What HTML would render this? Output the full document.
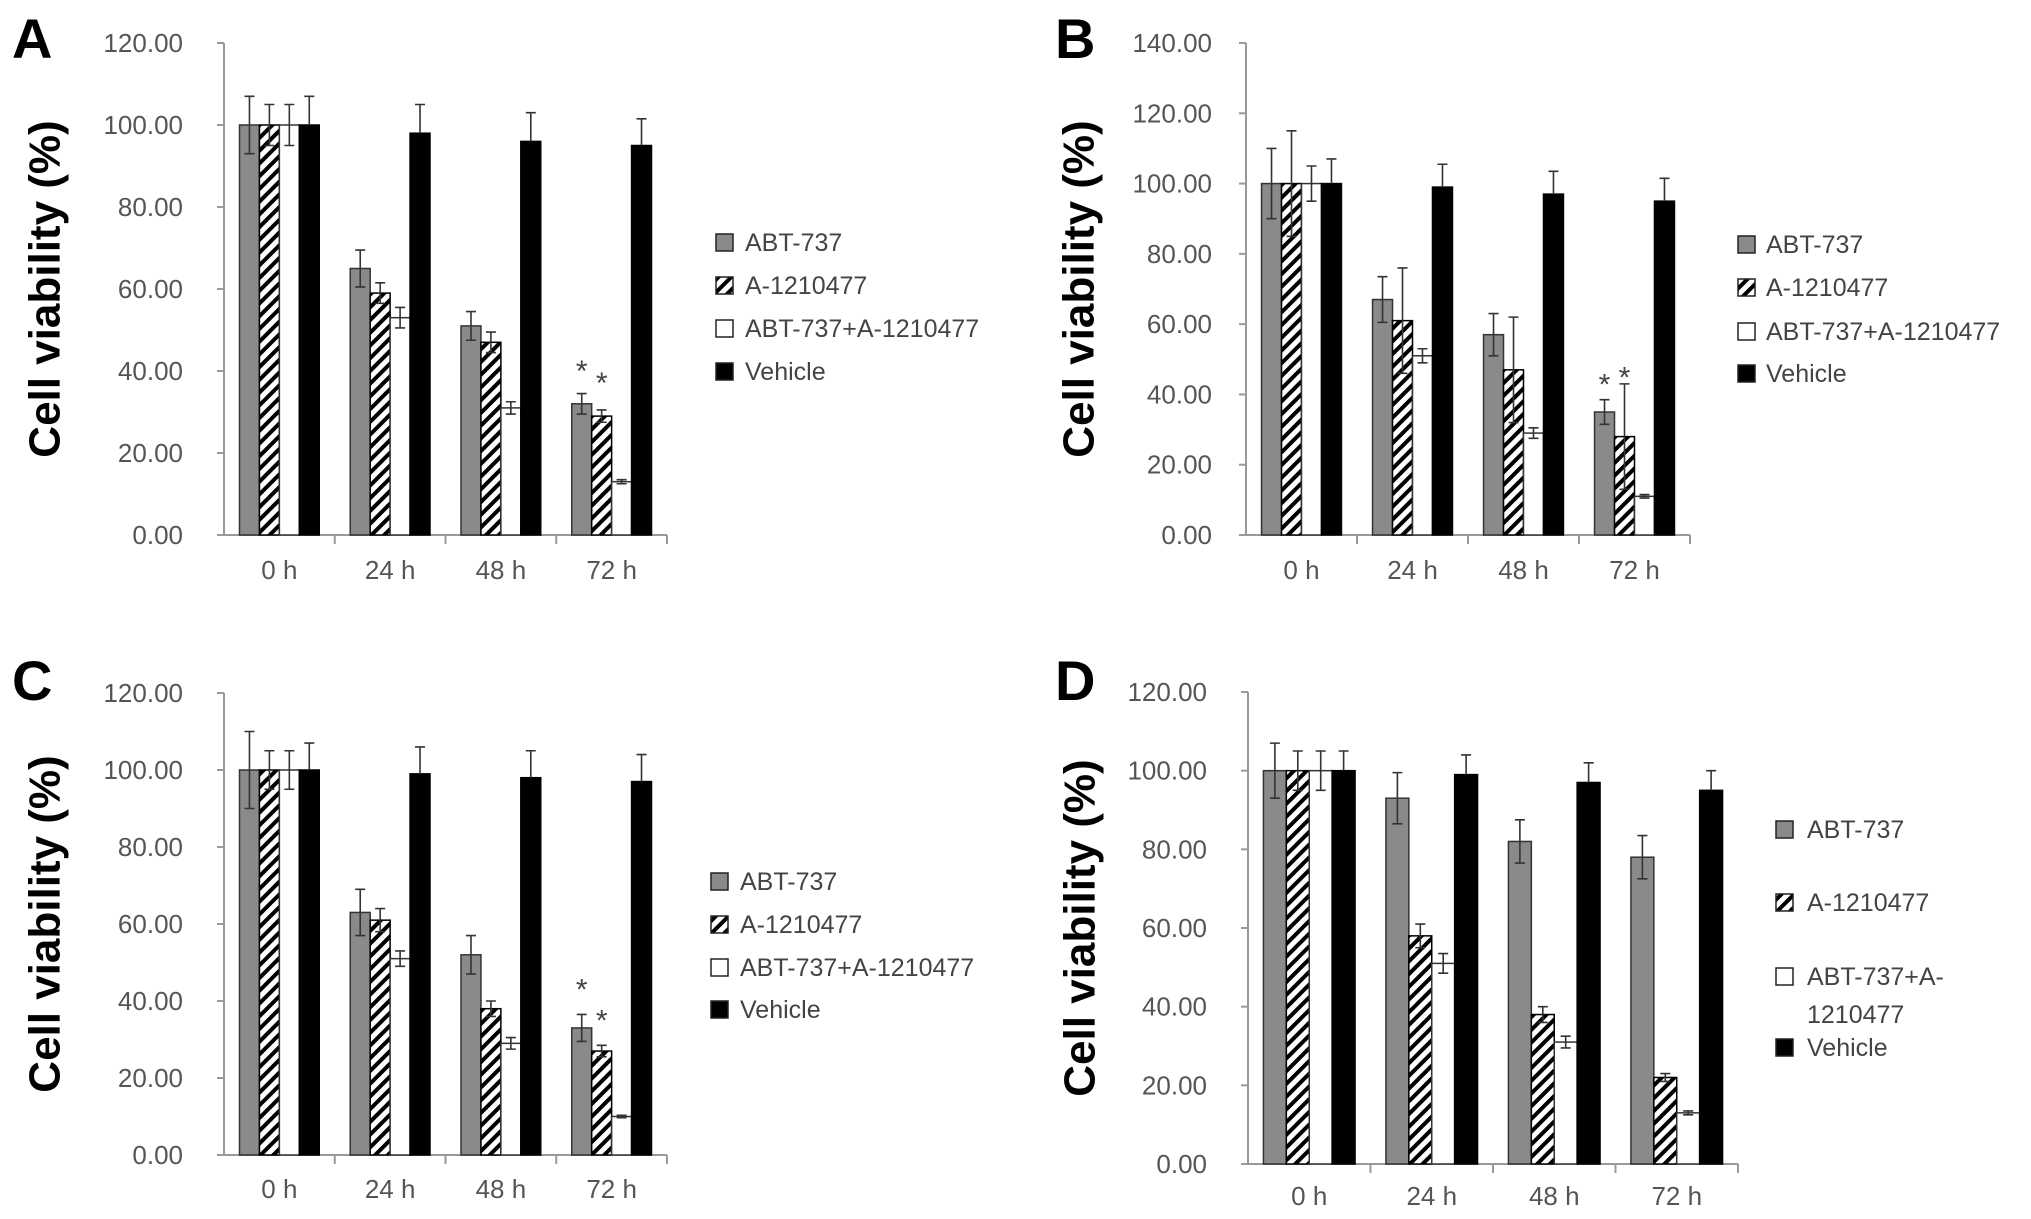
<!DOCTYPE html>
<html><head><meta charset="utf-8"><style>
html,body{margin:0;padding:0;background:#fff;}
svg{display:block;font-family:"Liberation Sans",Arial,sans-serif;}
</style></head><body>
<svg id="fig" width="2031" height="1219" viewBox="0 0 2031 1219" xmlns="http://www.w3.org/2000/svg">
<defs>
<pattern id="hatch" patternUnits="userSpaceOnUse" width="9" height="9" patternTransform="rotate(45)">
<rect width="9" height="9" fill="#fff"/><rect x="0" y="0" width="4" height="9" fill="#000"/>
</pattern>
</defs>
</svg>
<script>
const categories = ["0 h","24 h","48 h","72 h"];
const seriesNames = ["ABT-737","A-1210477","ABT-737+A-1210477","Vehicle"];
// Panel A
const aAbt = [100,65,51,32], aAbtErr = [7,4.5,3.5,2.5];
const aA12 = [100,59,47,29], aA12Err = [5,2.5,2.5,1.5];
const aCombo = [100,53,31,13], aComboErr = [5,2.5,1.5,0.5];
const aVeh = [100,98,96,95], aVehErr = [7,7,7,6.5];
const aTicks = ["0.00","20.00","40.00","60.00","80.00","100.00","120.00"];
// Panel B
const bAbt = [100,67,57,35], bAbtErr = [10,6.5,6,3.5];
const bA12 = [100,61,47,28], bA12Err = [15,15,15,15];
const bCombo = [100,51,29,11], bComboErr = [5,2,1.5,0.5];
const bVeh = [100,99,97,95], bVehErr = [7,6.5,6.5,6.5];
const bTicks = ["0.00","20.00","40.00","60.00","80.00","100.00","120.00","140.00"];
// Panel C
const cAbt = [100,63,52,33], cAbtErr = [10,6,5,3.5];
const cA12 = [100,61,38,27], cA12Err = [5,3,2,1.5];
const cCombo = [100,51,29,10], cComboErr = [5,2,1.5,0.3];
const cVeh = [100,99,98,97], cVehErr = [7,7,7,7];
const cTicks = ["0.00","20.00","40.00","60.00","80.00","100.00","120.00"];
// Panel D
const dAbt = [100,93,82,78], dAbtErr = [7,6.5,5.5,5.5];
const dA12 = [100,58,38,22], dA12Err = [5,3,2,1];
const dCombo = [100,51,31,13], dComboErr = [5,2.5,1.5,0.5];
const dVeh = [100,99,97,95], dVehErr = [5,5,5,5];
const dTicks = ["0.00","20.00","40.00","60.00","80.00","100.00","120.00"];
// asterisk values (panel, series index, value)
const aStars = [[0,41],[1,38]];
const bStars = [[0,44],[1,46]];
const cStars = [[0,44],[1,36]];

const NS = "http://www.w3.org/2000/svg";
const svg = document.getElementById("fig");
function mk(tag, attrs, parent){
  const e = document.createElementNS(NS, tag);
  for (const k in attrs) e.setAttribute(k, attrs[k]);
  (parent||svg).appendChild(e);
  return e;
}

function panel(p){
  const g = mk("g", {});
  
  
  const ymax = (p.ticks.length-1)*20;
  const ys = v => p.y0 - v/ymax*(p.y0-p.y1);
  const cw = (p.x1-p.x0)/categories.length;
  const bw = cw*p.bf;
  // panel letter
  const L = mk("text",{x:p.lx,y:p.ly,"font-size":56,"font-weight":"bold",fill:"#000"},g);
  L.textContent = p.id;
  
  
  // y title
  const cy = (p.y0+p.y1)/2;
  const T = mk("text",{x:p.tx,y:cy,"font-size":44,"font-weight":"bold",fill:"#000","text-anchor":"middle",transform:`rotate(-90 ${p.tx} ${cy})`,"dominant-baseline":"central"},g);
  T.textContent = "Cell viability (%)";
  
  
  // axes
  const ya = mk("line",{x1:p.x0,y1:p.y1,x2:p.x0,y2:p.y0,stroke:"#999","stroke-width":2},g);
  
  
  p.ticks.forEach((t,i)=>{
    const y = ys(i*20);
    mk("line",{x1:p.x0-7,y1:y,x2:p.x0,y2:y,stroke:"#999","stroke-width":2},g);
    const tl = mk("text",{x:p.tickR,y:y,"font-size":26,fill:"#555","text-anchor":"end","dominant-baseline":"central"},g);
    tl.textContent = t;
    
    
  });
  const xa = mk("line",{x1:p.x0,y1:p.y0,x2:p.x1,y2:p.y0,stroke:"#999","stroke-width":2},g);
  
  
  categories.forEach((c,i)=>{
    const xs = p.x0 + (i+1)*cw;
    mk("line",{x1:xs,y1:p.y0,x2:xs,y2:p.y0+9,stroke:"#999","stroke-width":2},g);
    const xl = mk("text",{x:p.x0+(i+0.5)*cw,y:p.xly,"font-size":26,fill:"#555","text-anchor":"middle","dominant-baseline":"central"},g);
    xl.textContent = c;
    
    
  });
  const fills = ["#8a8a8a","url(#hatch)","#fff","#000"];
  const strokes = ["#333","#000","#333","#000"];
  const barCenters = [];
  p.series.forEach((s,si)=>{
    s.v.forEach((v,ci)=>{
      const gx = p.x0 + ci*cw + (cw-4*bw)/2 + si*bw;
      const y = ys(v);
      const r = mk("rect",{x:gx,y:y,width:bw,height:p.y0-y,fill:fills[si],stroke:strokes[si],"stroke-width":1.5},g);
      
      
      const cx = gx+bw/2, e = s.e[ci];
      const ytop = ys(v+e), ybot = si===3 ? y : ys(v-e);
      const eb = mk("path",{d:`M${cx},${ytop}V${ybot}M${cx-5},${ytop}H${cx+5}`+(si===3?"":`M${cx-5},${ybot}H${cx+5}`),stroke:"#333","stroke-width":1.6,fill:"none"},g);
      
      
      if(ci===3) barCenters[si]=cx;
    });
  });
  (p.stars||[]).forEach(st=>{
    const t = mk("text",{x:barCenters[st[0]],y:ys(st[1])+14,"font-size":30,fill:"#444","text-anchor":"middle"},g);
    t.textContent = "*";
    
    
  });
  // legend
  const lfill = ["#8a8a8a","url(#hatch)","#fff","#000"];
  p.leg.rows.forEach((ry,i)=>{
    const lg = mk("g",{},g);
    
    
    mk("rect",{x:p.leg.x,y:ry-9,width:17,height:17,fill:lfill[i],stroke:"#222","stroke-width":1.5},lg);
    const lines = (p.leg.wrap && i===2) ? ["ABT-737+A-","1210477"] : [seriesNames[i]];
    lines.forEach((ln,k)=>{
      const tx = mk("text",{x:p.leg.tx,y:ry+k*38,"font-size":25,fill:"#444","dominant-baseline":"central"},lg);
      tx.textContent = ln;
    });
  });
}

panel({id:"A",x0:224,x1:667,y0:535,y1:43,bf:0.18,ticks:aTicks,tickR:183,xly:570,lx:12,ly:58,tx:45,
  series:[{v:aAbt,e:aAbtErr},{v:aA12,e:aA12Err},{v:aCombo,e:aComboErr},{v:aVeh,e:aVehErr}],
  stars:aStars,leg:{x:716,tx:745,rows:[243,286,329,372]}});
panel({id:"B",x0:1246,x1:1690,y0:535,y1:43,bf:0.18,ticks:bTicks,tickR:1212,xly:570,lx:1055,ly:58,tx:1079,
  series:[{v:bAbt,e:bAbtErr},{v:bA12,e:bA12Err},{v:bCombo,e:bComboErr},{v:bVeh,e:bVehErr}],
  stars:bStars,leg:{x:1738,tx:1766,rows:[245,288,332,374]}});
panel({id:"C",x0:224,x1:667,y0:1155,y1:693,bf:0.18,ticks:cTicks,tickR:183,xly:1189,lx:12,ly:700,tx:45,
  series:[{v:cAbt,e:cAbtErr},{v:cA12,e:cA12Err},{v:cCombo,e:cComboErr},{v:cVeh,e:cVehErr}],
  stars:cStars,leg:{x:711,tx:740,rows:[882,925,968,1010]}});
panel({id:"D",x0:1248,x1:1738,y0:1164,y1:692,bf:0.187,ticks:dTicks,tickR:1207,xly:1196,lx:1055,ly:700,tx:1080,
  series:[{v:dAbt,e:dAbtErr},{v:dA12,e:dA12Err},{v:dCombo,e:dComboErr},{v:dVeh,e:dVehErr}],
  leg:{x:1776,tx:1807,wrap:true,rows:[830,903,977,1048]}});
</script>
</body></html>
